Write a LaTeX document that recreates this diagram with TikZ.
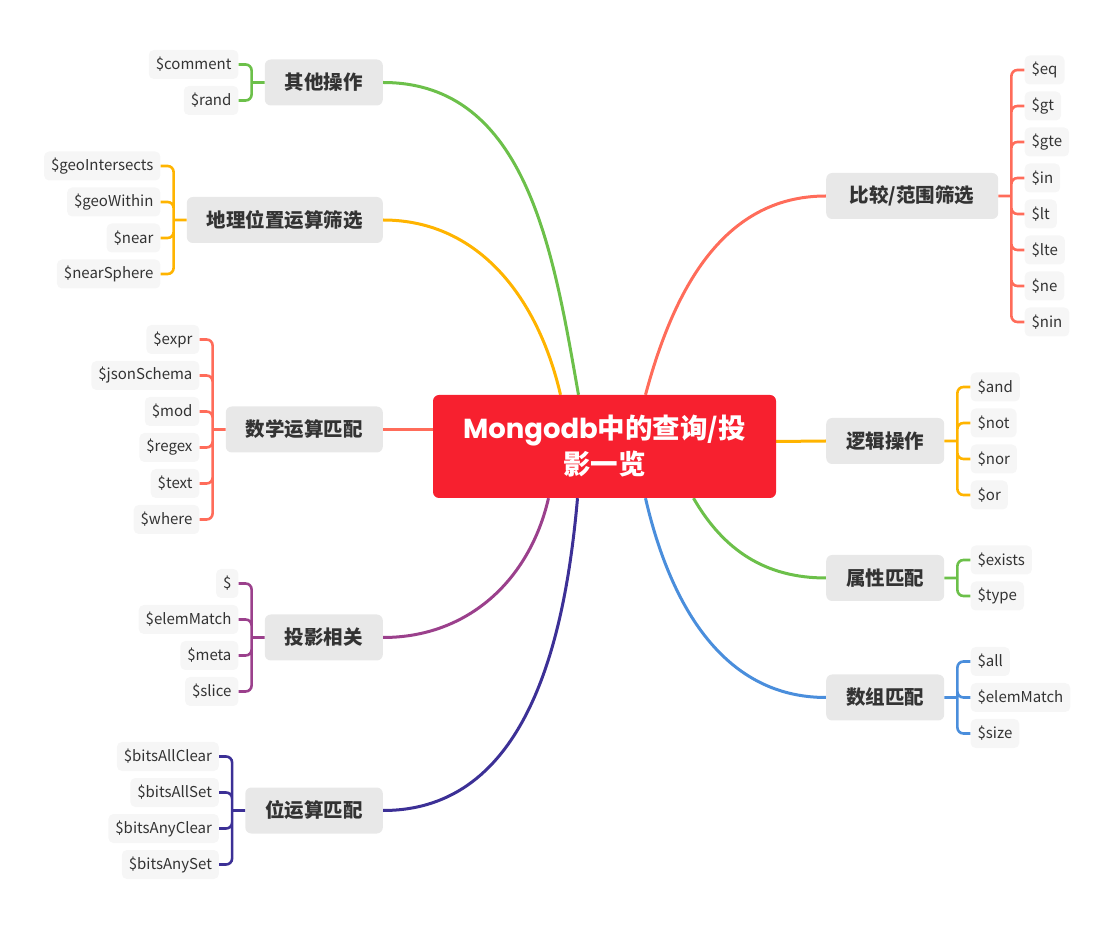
\documentclass[tikz,border=0pt]{standalone}
\usepackage{fontspec}
\setmainfont{Noto Sans CJK SC}
\newfontfamily\titlefont{Poppins}
\usetikzlibrary{backgrounds}

\definecolor{rootred}{RGB}{247,32,47}
\definecolor{topicgray}{RGB}{232,232,232}
\definecolor{leafgray}{RGB}{246,246,246}
\definecolor{inkgray}{RGB}{51,51,51}
\definecolor{mgreen}{RGB}{108,192,74}
\definecolor{morange}{RGB}{255,180,0}
\definecolor{msalmon}{RGB}{255,108,90}
\definecolor{mpurple}{RGB}{155,64,140}
\definecolor{mindigo}{RGB}{60,48,150}
\definecolor{mblue}{RGB}{74,142,220}

\begin{document}
\begin{tikzpicture}[x=1pt, y=1pt]

\tikzstyle{root} = [rectangle, rounded corners=6pt, minimum width=343pt, minimum height=103pt, align=center, fill=rootred, text=white, font=\fontsize{27.5}{36}\selectfont\bfseries]
\tikzstyle{topic} = [rectangle, rounded corners=6pt, minimum height=46pt, inner xsep=20pt, fill=topicgray, text=inkgray, font=\fontsize{19.5}{22}\selectfont\bfseries]
\tikzstyle{leaf} = [rectangle, rounded corners=5pt, minimum height=29pt, inner xsep=7pt, fill=leafgray, text=inkgray, font=\fontsize{15}{18}\selectfont]
\tikzstyle{leafL} = [leaf, anchor=east]
\tikzstyle{leafR} = [leaf, anchor=west]
\tikzstyle{branch} = [line width=3pt]
\tikzstyle{brk} = [line width=2.6pt, rounded corners=6pt]

\useasboundingbox (0,0) rectangle (1117,930);

% Define nodes
\node (root) [root] at (604.5,483.5) {{\titlefont Mongodb}中的查询/投\\影一览};

\node (oth) [topic, anchor=east] at (383,847.5) {其他操作};
\node (geo) [topic, anchor=east] at (383,710) {地理位置运算筛选};
\node (mth) [topic, anchor=east] at (383,500.5) {数学运算匹配};
\node (proj) [topic, anchor=east] at (383,292.5) {投影相关};
\node (bit) [topic, anchor=east] at (383,119.5) {位运算匹配};
\node (cmp) [topic, anchor=west, minimum width=172pt] at (826,734) {比较/范围筛选};
\node (logic) [topic, anchor=west] at (826,489) {逻辑操作};
\node (attr) [topic, anchor=west] at (826,352) {属性匹配};
\node (arr) [topic, anchor=west] at (826,232.5) {数组匹配};

% left leaves
\node (cmt) [leafL] at ([xshift=-26pt, yshift=18pt]oth.west) {\$comment};
\node (rnd) [leafL] at ([yshift=-36pt]cmt.east) {\$rand};

\node (gis) [leafL] at ([xshift=-26pt, yshift=54pt]geo.west) {\$geoIntersects};
\node (gwi) [leafL] at ([yshift=-36pt]gis.east) {\$geoWithin};
\node (nea) [leafL] at ([yshift=-36pt]gwi.east) {\$near};
\node (nsp) [leafL] at ([yshift=-36pt]nea.east) {\$nearSphere};

\node (expr) [leafL] at ([xshift=-26pt, yshift=90pt]mth.west) {\$expr};
\node (jss) [leafL] at ([yshift=-36pt]expr.east) {\$jsonSchema};
\node (mod) [leafL] at ([yshift=-36pt]jss.east) {\$mod};
\node (rgx) [leafL] at ([yshift=-36pt]mod.east) {\$regex};
\node (txt) [leafL] at ([yshift=-36pt]rgx.east) {\$text};
\node (whr) [leafL] at ([yshift=-36pt]txt.east) {\$where};

\node (dol) [leafL] at ([xshift=-26pt, yshift=54pt]proj.west) {\$};
\node (pem) [leafL] at ([yshift=-36pt]dol.east) {\$elemMatch};
\node (meta) [leafL] at ([yshift=-36pt]pem.east) {\$meta};
\node (slc) [leafL] at ([yshift=-36pt]meta.east) {\$slice};

\node (bac) [leafL] at ([xshift=-26pt, yshift=54pt]bit.west) {\$bitsAllClear};
\node (bas) [leafL] at ([yshift=-36pt]bac.east) {\$bitsAllSet};
\node (bnc) [leafL] at ([yshift=-36pt]bas.east) {\$bitsAnyClear};
\node (bns) [leafL] at ([yshift=-36pt]bnc.east) {\$bitsAnySet};

% right leaves
\node (ceq) [leafR] at ([xshift=26pt, yshift=126pt]cmp.east) {\$eq};
\node (cgt) [leafR] at ([yshift=-36pt]ceq.west) {\$gt};
\node (cgte) [leafR] at ([yshift=-36pt]cgt.west) {\$gte};
\node (cin) [leafR] at ([yshift=-36pt]cgte.west) {\$in};
\node (clt) [leafR] at ([yshift=-36pt]cin.west) {\$lt};
\node (clte) [leafR] at ([yshift=-36pt]clt.west) {\$lte};
\node (cne) [leafR] at ([yshift=-36pt]clte.west) {\$ne};
\node (cnin) [leafR] at ([yshift=-36pt]cne.west) {\$nin};

\node (land) [leafR] at ([xshift=26pt, yshift=54pt]logic.east) {\$and};
\node (lnot) [leafR] at ([yshift=-36pt]land.west) {\$not};
\node (lnor) [leafR] at ([yshift=-36pt]lnot.west) {\$nor};
\node (lor) [leafR] at ([yshift=-36pt]lnor.west) {\$or};

\node (aex) [leafR] at ([xshift=26pt, yshift=18pt]attr.east) {\$exists};
\node (aty) [leafR] at ([yshift=-36pt]aex.west) {\$type};

\node (rall) [leafR] at ([xshift=26pt, yshift=36pt]arr.east) {\$all};
\node (rem) [leafR] at ([yshift=-36pt]rall.west) {\$elemMatch};
\node (rsz) [leafR] at ([yshift=-36pt]rem.west) {\$size};

% junctions
\coordinate (othj) at ([xshift=-13pt]oth.west);
\coordinate (geoj) at ([xshift=-13pt]geo.west);
\coordinate (mthj) at ([xshift=-13pt]mth.west);
\coordinate (projj) at ([xshift=-13pt]proj.west);
\coordinate (bitj) at ([xshift=-13pt]bit.west);
\coordinate (cmpj) at ([xshift=13pt]cmp.east);
\coordinate (logicj) at ([xshift=13pt]logic.east);
\coordinate (attrj) at ([xshift=13pt]attr.east);
\coordinate (arrj) at ([xshift=13pt]arr.east);

% Draw branches
\begin{scope}[on background layer]
\draw [branch, mgreen] ([xshift=-26pt]root.north) to[out=100, in=0] (oth.east);
\draw [branch, morange] ([xshift=-44pt]root.north) to[out=103, in=0] (geo.east);
\draw [branch, msalmon] ([yshift=17pt]root.west) -- (mth.east);
\draw [branch, mpurple] ([xshift=-56pt]root.south) to[out=-103, in=0] (proj.east);
\draw [branch, mindigo] ([xshift=-27pt]root.south) to[out=-95, in=0] (bit.east);
\draw [branch, msalmon] ([xshift=41pt]root.north) to[out=75, in=180] (cmp.west);
\draw [branch, morange] ([yshift=5pt]root.east) -- (logic.west);
\draw [branch, mgreen] ([xshift=89pt]root.south) to[out=-60, in=180] (attr.west);
\draw [branch, mblue] ([xshift=41pt]root.south) to[out=-77, in=180] (arr.west);
\end{scope}

% Draw brackets
\draw [brk, mgreen] (oth.west) -- (othj) (othj) |- (cmt.east) (othj) |- (rnd.east);
\draw [brk, morange] (geo.west) -- (geoj) (geoj) |- (gis.east) (geoj) |- (gwi.east)
  (geoj) |- (nea.east) (geoj) |- (nsp.east);
\draw [brk, msalmon] (mth.west) -- (mthj) (mthj) |- (expr.east) (mthj) |- (jss.east)
  (mthj) |- (mod.east) (mthj) |- (rgx.east) (mthj) |- (txt.east) (mthj) |- (whr.east);
\draw [brk, mpurple] (proj.west) -- (projj) (projj) |- (dol.east) (projj) |- (pem.east)
  (projj) |- (meta.east) (projj) |- (slc.east);
\draw [brk, mindigo] (bit.west) -- (bitj) (bitj) |- (bac.east) (bitj) |- (bas.east)
  (bitj) |- (bnc.east) (bitj) |- (bns.east);
\draw [brk, msalmon] (cmp.east) -- (cmpj) (cmpj) |- (ceq.west) (cmpj) |- (cgt.west)
  (cmpj) |- (cgte.west) (cmpj) |- (cin.west) (cmpj) |- (clt.west) (cmpj) |- (clte.west)
  (cmpj) |- (cne.west) (cmpj) |- (cnin.west);
\draw [brk, morange] (logic.east) -- (logicj) (logicj) |- (land.west) (logicj) |- (lnot.west)
  (logicj) |- (lnor.west) (logicj) |- (lor.west);
\draw [brk, mgreen] (attr.east) -- (attrj) (attrj) |- (aex.west) (attrj) |- (aty.west);
\draw [brk, mblue] (arr.east) -- (arrj) (arrj) |- (rall.west) (arrj) |- (rem.west) (arrj) |- (rsz.west);

\end{tikzpicture}
\end{document}
